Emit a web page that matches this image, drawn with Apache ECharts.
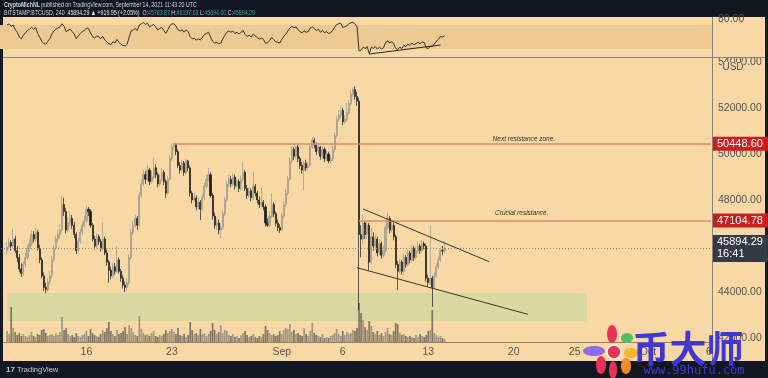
<!DOCTYPE html>
<html>
<head>
<meta charset="utf-8">
<title>BTCUSD 4h</title>
<script src="https://cdn.jsdelivr.net/npm/echarts@6/dist/echarts.min.js"></script>
<style>
  html, body { margin: 0; padding: 0; background: #131722; }
  #main { width: 768px; height: 378px; }
</style>
</head>
<body>
<div id="main"></div>
<script>
  // 4h slots counted from Aug 9 2021 00:00 UTC, first candle sits in slot 3
  const firstSlot = 3;
  const slotCount = 350;

  // [open, close, low, high]
  const candles = [
    [45800,45950,45650,46150],[45950,46150,45850,46350],[46150,46000,45800,46250],[46000,46300,45900,46750],
    [46300,45800,45700,46450],[45800,45500,45300,46000],[45500,45000,44850,45650],[45000,44800,44650,45250],
    [44800,45200,44700,45350],[45200,45500,45050,45700],[45500,45900,45400,46050],[45900,46100,45750,46300],
    [46100,46500,46000,46700],[46500,46300,46150,46650],[46300,46600,46200,46800],[46600,45900,45800,46700],
    [45900,45400,45250,46050],[45400,44700,44600,45500],[44700,44200,44050,44850],[44200,44100,43950,44400],
    [44100,44450,44000,44600],[44450,44700,44300,44900],[44700,45400,44600,45550],[45400,45900,45300,46050],
    [45900,46300,45800,46450],[46300,46500,46150,46700],[46500,46700,46350,46950],[46700,47800,46600,48200],
    [47800,47500,47300,48100],[47500,46700,46550,47650],[46700,47000,46600,47250],[47000,47200,46850,47500],
    [47200,46900,46750,47350],[46900,46500,46350,47050],[46500,45800,45650,46600],[45800,46200,45700,46350],
    [46200,46600,46100,46750],[46600,46900,46450,47050],[46900,47100,46800,47300],[47100,47600,47000,47750],
    [47600,47500,47300,47700],[47500,46900,46800,47600],[46900,46300,46200,47000],[46300,46000,45850,46450],
    [46000,46400,45900,46550],[46400,46200,46050,46500],[46200,45900,45750,46300],[45900,46300,45800,47040],
    [46300,45700,45600,46400],[45700,45300,45150,45850],[45300,44950,44400,45400],[44950,44700,44550,45100],
    [44700,45100,44600,45250],[45100,44900,44750,45250],[44900,45400,44800,46000],[45400,44900,44800,45500],
    [44900,44600,44450,45000],[44600,44300,44150,44750],[44300,44200,44000,44450],[44200,44400,44050,44600],
    [44400,45500,44300,45650],[45500,46600,45400,46750],[46600,46900,46450,47100],[46900,47200,46800,47350],
    [47200,46900,46700,47300],[46900,48200,46850,48350],[48200,48700,48100,48900],[48700,49100,48600,49300],
    [49100,48900,48700,49250],[48900,49300,48800,49500],[49300,48800,48650,49400],[48800,49000,48700,49250],
    [49000,49400,48900,49830],[49400,49100,48950,49550],[49100,48700,48550,49200],[48700,48900,48600,49100],
    [48900,49200,48800,49400],[49200,48800,48650,49300],[48800,48300,48090,48900],[48300,48900,48200,49050],
    [48900,49800,48850,49950],[49800,50300,49700,50450],[50300,50400,50150,50500],[50400,50100,49950,50450],
    [50100,49500,49400,50200],[49500,49300,49150,49650],[49300,49600,49200,49750],[49600,49200,49050,49700],
    [49200,49700,49100,49800],[49700,49400,49250,49750],[49400,48300,48150,49500],[48300,48000,47850,48400],
    [48000,48100,47900,48300],[48100,47700,47550,48200],[47700,47900,47600,48100],[47900,47600,47130,48000],
    [47600,48100,47500,48250],[48100,48600,48000,48750],[48600,48900,48500,49100],[48900,49100,48800,49400],
    [49100,48200,48100,49200],[48200,47300,47150,48300],[47300,46900,46750,47450],[46900,47000,46700,47200],
    [47000,46700,46500,47150],[46700,46800,46350,46950],[46800,47400,46700,47550],[47400,48000,47300,48150],
    [48000,48700,47900,48850],[48700,48900,48550,49100],[48900,48700,48550,49050],[48700,49000,48600,49150],
    [49000,48600,48450,49100],[48600,48800,48500,48950],[48800,48500,48350,48900],[48500,48900,48400,49050],
    [48900,49200,48800,49650],[49200,48500,48400,49300],[48500,48200,48050,48650],[48200,48400,48100,48550],
    [48400,48100,47950,48500],[48100,48600,48000,49200],[48600,48300,48150,48700],[48300,48000,47850,48400],
    [48000,47800,47650,48150],[47800,47900,47700,48550],[47900,47700,47550,48000],[47700,47000,46850,47800],
    [47000,46900,46830,47200],[46900,47300,46800,47500],[47300,47800,47200,48300],[47800,47400,47250,47900],
    [47400,47000,46850,47500],[47000,46800,46650,47150],[46800,46700,46570,46950],[46700,47300,46650,47450],
    [47300,47800,47200,47950],[47800,48300,47700,48450],[48300,48900,48200,49050],[48900,49700,48850,49850],
    [49700,50200,49600,50350],[50200,49900,49750,50300],[49900,50300,49800,50450],[50300,49800,49650,50400],
    [49800,49500,49350,49900],[49500,49300,49150,49650],[49300,49600,48430,49700],[49600,49400,49250,49750],
    [49400,49500,49300,49700],[49500,50300,49450,50450],[50300,50600,50200,50750],[50600,50400,50250,50700],
    [50400,50100,49950,50500],[50100,50300,50000,50450],[50300,49900,49750,50350],[49900,50200,49800,50350],
    [50200,49800,49650,50300],[49800,50000,49700,50150],[50000,49700,49600,50100],[49700,49800,49600,49950],
    [49800,50200,49700,50350],[50200,50800,50100,50950],[50800,51500,50700,51650],[51500,51700,51400,51900],
    [51700,51900,51550,52050],[51900,51400,51250,52000],[51400,51500,51300,51700],[51500,51800,51400,52220],
    [51800,52200,51700,52350],[52200,52600,52100,52750],[52600,52800,52450,52900],[52800,52500,52350,52950],
    [52500,52300,52100,52700],[52300,46500,43200,52450],[46500,46300,45500,46900],[46300,47000,46100,47350],
    [47000,46500,46300,47100],[46500,46900,46300,47100],[46900,45300,44950,47000],[45300,46400,45200,46800],
    [46400,46000,45800,46600],[46000,46300,45850,46500],[46300,45700,45550,46400],[45700,46100,45600,46300],
    [46100,45600,45450,46200],[45600,45800,45500,46000],[45800,46800,45700,46950],[46800,47200,46700,47430],
    [47200,46700,46550,47300],[46700,46900,46600,47100],[46900,46400,46250,47000],[46400,45200,45050,46500],
    [45200,44900,44090,45350],[44900,45300,44800,45450],[45300,44900,44750,45400],[44900,45500,44800,45650],
    [45500,45200,45050,45600],[45200,45700,45100,45850],[45700,45400,45250,45800],[45400,45900,45300,46050],
    [45900,45500,45350,46000],[45500,45800,45400,45950],[45800,46000,45700,46200],[46000,45800,45650,46100],
    [45800,46100,45700,46250],[46100,46000,45850,46200],[46000,44600,44450,46100],[44600,44400,44250,44750],
    [44400,44600,44300,46900],[44600,44200,43350,44700],[44200,44700,44100,44850],[44700,45100,44600,45250],
    [45100,45400,45000,45550],[45400,45800,45300,45950],[45800,45783.87,45600,46000],[45783.87,45894.29,45694,46197.68]
  ];

  const volumes = [
    1200,900,3600,1500,1100,800,1000,700,
    900,700,600,800,1100,700,600,900,800,1300,
    1400,1000,700,800,900,700,1000,800,1100,2600,
    1300,1500,900,700,800,600,1000,700,600,800,
    900,1200,700,1400,1000,800,700,600,900,1300,
    1100,1500,2100,1200,900,700,1300,900,1000,1200,
    1600,900,1800,1500,1100,800,700,2700,1400,1000,
    800,900,700,1000,1200,700,600,800,700,900,
    1300,1000,1200,1400,1100,900,1500,800,700,900,
    600,800,2100,1300,900,1000,800,1400,900,1000,
    700,900,1200,2000,1300,900,1100,1800,1000,1300,
    1200,800,700,900,600,700,500,800,1000,1200,
    800,600,700,900,600,500,700,600,900,1700,
    1300,1000,800,900,700,800,1200,900,1300,1500,
    1400,1900,1100,1300,900,1000,800,700,1500,900,
    700,1200,2000,1000,800,700,600,900,500,600,
    500,700,800,1000,1400,900,700,1200,800,1100,
    900,1000,1300,1200,1500,4000,3000,2300,1600,1300,
    2200,1700,1100,900,1200,800,1000,700,1100,1500,
    900,800,1200,2000,1900,1000,800,900,700,600,
    700,600,500,800,600,900,700,600,800,1200,
    1300,3300,1000,800,600,700,500,400
  ];

  const rsiValues = [
    70,72,68,70,62,58,50,47,
    53,57,61,63,66,63,66,56,50,43,
    39,38,43,47,55,60,63,65,67,72,
    68,59,61,63,59,55,47,52,56,59,
    61,65,64,57,51,48,52,50,47,51,
    45,42,39,37,42,40,46,41,38,36,
    35,38,50,60,62,64,61,70,72,74,
    71,73,67,69,71,67,62,64,66,61,
    56,62,69,72,72,68,62,60,62,58,
    62,59,50,47,48,45,47,45,50,54,
    56,58,50,43,40,41,39,40,47,53,
    58,60,58,60,56,58,55,58,61,54,
    51,53,50,55,52,49,47,48,46,40,
    40,44,49,46,42,41,40,46,51,55,
    60,65,68,65,67,62,59,57,60,58,
    59,65,67,64,61,63,58,61,57,59,
    56,57,61,66,71,72,73,66,67,69,
    72,74,75,71,68,27,28,33,31,34,
    22,33,31,34,30,33,30,32,40,44,
    40,42,39,31,29,33,31,36,34,38,
    36,40,37,39,41,39,42,41,32,31,
    34,35,38,43,46,51,50,52
  ];

  // date ticks: slot index -> label
  const tickLabels = {42: '16', 84: '23', 138: 'Sep', 168: '6', 210: '13', 252: '20', 282: '25', 318: 'Oct', 348: '6'};

  const nextResistance = 50448.60;
  const crucialResistance = 47104.78;
  const lastPrice = 45894.29;
  const supportZone = [42739, 43957];

  const slotStart = Date.UTC(2021, 7, 9);
  const categories = [];
  for (let i = 0; i < slotCount; i++) {
    categories.push(new Date(slotStart + i * 4 * 3600 * 1000).toISOString().slice(0, 13));
  }

  const candleData = categories.map(() => '-');
  const volumeData = categories.map(() => '-');
  const rsiData = categories.map(() => '-');
  candles.forEach((c, k) => {
    const i = firstSlot + k;
    candleData[i] = c;
    volumeData[i] = {
      value: volumes[k],
      itemStyle: {color: c[1] >= c[0] ? 'rgba(140,132,121,0.8)' : 'rgba(100,93,85,0.8)'}
    };
    rsiData[i] = rsiValues[k];
  });

  const peach = '#f8d8a5';
  const frame = '#8d8173';
  const labelFont = 'Liberation Sans';

  let chart = echarts.init(document.getElementById('main'));
  let option = {
    animation: false,
    backgroundColor: '#131722',
    textStyle: {fontFamily: labelFont},
    grid: [
      {left: -3, right: 56, top: 58, bottom: 35},
      {left: -3, right: 56, top: 18, height: 39},
      {left: -3, right: 56, top: 295, bottom: 35}
    ],
    xAxis: [
      {
        type: 'category', data: categories, gridIndex: 0, boundaryGap: true,
        axisLine: {show: false}, axisTick: {show: false}, splitLine: {show: false},
        axisLabel: {
          interval: (idx) => tickLabels[idx] !== undefined,
          formatter: (val, idx) => tickLabels[idx] || '',
          color: '#555', fontSize: 10.5, margin: 4
        }
      },
      {type: 'category', data: categories, gridIndex: 1, show: false},
      {type: 'category', data: categories, gridIndex: 2, show: false}
    ],
    yAxis: [
      {
        type: 'value', gridIndex: 0, position: 'right', min: 41783, max: 54174, scale: true,
        splitNumber: 6,
        axisLine: {show: false}, axisTick: {show: false}, splitLine: {show: false},
        axisLabel: {
          formatter: (v) => (v % 2000 === 0 ? v.toFixed(2) : ''),
          color: '#555', fontSize: 10.5, margin: 6
        }
      },
      {
        type: 'value', gridIndex: 1, position: 'right', min: 16.7, max: 81.7,
        axisLine: {show: false}, axisTick: {show: false}, splitLine: {show: false},
        axisLabel: {
          formatter: (v) => (v === 80 ? '80.00' : ''),
          color: '#555', fontSize: 10.5, margin: 6
        }
      },
      {type: 'value', gridIndex: 2, min: 0, max: 4800, show: false}
    ],
    series: [
      {
        name: 'BTCUSD',
        type: 'candlestick',
        xAxisIndex: 0, yAxisIndex: 0,
        data: candleData,
        barWidth: 1.6,
        itemStyle: {
          color: '#b3ada3', color0: '#1c1c1c',
          borderColor: '#9d978d', borderColor0: '#1c1c1c', borderWidth: 0.7
        },
        markArea: {
          silent: true,
          itemStyle: {color: '#d9d8a1'},
          data: [[{coord: [3, supportZone[1]]}, {coord: [288, supportZone[0]]}]]
        },
        markLine: {
          silent: true,
          symbol: ['none', 'none'],
          precision: 2,
          data: [
            [
              {coord: [85, nextResistance], lineStyle: {color: '#e2896a', width: 1.6, type: 'solid'},
                label: {show: true, position: 'end', distance: 2, formatter: nextResistance.toFixed(2),
                  backgroundColor: '#c9201f', color: '#fff', fontSize: 11, padding: [2, 5, 1, 4], fontFamily: labelFont}},
              {coord: [349, nextResistance]}
            ],
            [
              {coord: [176, crucialResistance], lineStyle: {color: '#e2896a', width: 1.6, type: 'solid'},
                label: {show: true, position: 'end', distance: 2, formatter: crucialResistance.toFixed(2),
                  backgroundColor: '#c9201f', color: '#fff', fontSize: 11, padding: [2, 5, 1, 4], fontFamily: labelFont}},
              {coord: [349, crucialResistance]}
            ],
            [
              {coord: [0, lastPrice], lineStyle: {color: '#9a8c78', width: 1, type: [1, 2]},
                label: {show: true, position: 'end', distance: 2, formatter: lastPrice.toFixed(2) + '\n16:41',
                  backgroundColor: '#363a45', color: '#fff', fontSize: 11, lineHeight: 12, padding: [2, 5, 1, 4], fontFamily: labelFont}},
              {coord: [349, lastPrice]}
            ],
            [
              {coord: [178, 47609], lineStyle: {color: '#3a3630', width: 1, type: 'solid'}, label: {show: false}},
              {coord: [240, 45317]}
            ],
            [
              {coord: [175, 45057], lineStyle: {color: '#3a3630', width: 1, type: 'solid'}, label: {show: false}},
              {coord: [259, 43030]}
            ]
          ]
        },
        markPoint: {
          silent: true,
          symbol: 'circle', symbolSize: 0,
          label: {show: true, formatter: '{b}', fontStyle: 'italic', fontSize: 6.5, color: '#333', fontFamily: labelFont},
          data: [
            {name: 'Next resistance zone.', coord: [257, 50650]},
            {name: 'Crucial resistance.', coord: [256, 47435]}
          ]
        }
      },
      {
        name: 'RSI',
        type: 'line',
        xAxisIndex: 1, yAxisIndex: 1,
        data: rsiData,
        showSymbol: false,
        lineStyle: {color: '#3a3228', width: 1},
        markArea: {
          silent: true,
          itemStyle: {color: '#edc994'},
          data: [[{yAxis: 30}, {yAxis: 70}]]
        },
        markLine: {
          silent: true,
          symbol: ['none', 'none'],
          label: {show: false},
          lineStyle: {color: '#2a2620', width: 1, type: 'solid'},
          data: [[{coord: [181, 21.7]}, {coord: [216, 36.7]}]]
        }
      },
      {
        name: 'Volume',
        type: 'bar',
        xAxisIndex: 2, yAxisIndex: 2,
        data: volumeData,
        barWidth: 1.7
      }
    ],
    graphic: [
      {type: 'rect', z: -10, shape: {x: 3, y: 17, width: 762, height: 344}, style: {fill: peach}},
      {type: 'line', z: 50, shape: {x1: 3, y1: 57.5, x2: 765, y2: 57.5}, style: {stroke: frame, lineWidth: 1}},
      {type: 'line', z: 50, shape: {x1: 3, y1: 342.5, x2: 712, y2: 342.5}, style: {stroke: frame, lineWidth: 1}},
      {type: 'line', z: 50, shape: {x1: 712.5, y1: 17, x2: 712.5, y2: 361}, style: {stroke: frame, lineWidth: 1}},
      {
        type: 'text', z: 60, x: 733, y: 67,
        style: {text: 'USD', fill: '#555', fontSize: 10, fontFamily: labelFont, backgroundColor: peach,
          align: 'center', verticalAlign: 'middle'}
      },
      {
        type: 'text', z: 60, x: 4, y: 5, scaleX: 0.7,
        style: {
          text: '{b|CryptoMichNL} published on TradingView.com, September 14, 2021 11:43:20 UTC',
          fill: '#d1d4dc', fontSize: 7.5, fontFamily: labelFont, verticalAlign: 'middle',
          rich: {b: {fontWeight: 'bold', fill: '#d1d4dc', fontSize: 7.5}}
        }
      },
      {
        type: 'text', z: 60, x: 4, y: 12.5, scaleX: 0.7,
        style: {
          text: 'BITSTAMP:BTCUSD, 240  {w|45894.29 ▲ +919.95 (+2.05%)}  O:{g|45783.87} H:{g|46197.68} L:{g|45694.00} C:{g|45894.29}',
          fill: '#d1d4dc', fontSize: 7.5, fontFamily: labelFont, verticalAlign: 'middle',
          rich: {w: {fill: '#e8e8e8', fontSize: 7.5}, g: {fill: '#26a69a', fontSize: 7.5}}
        }
      },
      {
        type: 'text', z: 60, x: 6, y: 370,
        style: {text: '{b|17} TradingView', fill: '#c8cbd3', fontSize: 7.5, fontFamily: labelFont, verticalAlign: 'middle',
          rich: {b: {fontWeight: 'bold', fill: '#c8cbd3', fontSize: 8}}}
      },
      // watermark
      {type: 'ellipse', z: 70, shape: {cx: 594, cy: 351, rx: 11, ry: 5}, style: {fill: '#8a6cf0'}},
      {type: 'ellipse', z: 70, shape: {cx: 612, cy: 334, rx: 5, ry: 9}, style: {fill: '#e8325a'}},
      {type: 'ellipse', z: 70, shape: {cx: 627, cy: 338, rx: 6, ry: 5}, style: {fill: '#4fbf6a'}},
      {type: 'ellipse', z: 70, shape: {cx: 631, cy: 353, rx: 7, ry: 5}, style: {fill: '#f5b82a'}},
      {type: 'ellipse', z: 70, shape: {cx: 626, cy: 366, rx: 5, ry: 8}, style: {fill: '#f08a2a'}},
      {type: 'ellipse', z: 70, shape: {cx: 613, cy: 370, rx: 4, ry: 9}, style: {fill: '#e8325a'}},
      {type: 'ellipse', z: 70, shape: {cx: 601, cy: 365, rx: 5, ry: 9}, style: {fill: '#e8325a'}},
      {type: 'circle', z: 71, shape: {cx: 614, cy: 352, r: 7}, style: {fill: '#e8325a', stroke: '#fff', lineWidth: 1.5}},
      {
        type: 'text', z: 70, x: 688, y: 349,
        style: {text: '币大师', fill: '#4038d6', fontSize: 37, fontWeight: 'bold', fontFamily: 'Noto Sans CJK SC',
          align: 'center', verticalAlign: 'middle'}
      },
      {
        type: 'text', z: 70, x: 694, y: 371,
        style: {text: 'www.99hufu.com', fill: '#4038d6', fontSize: 12, fontFamily: 'DejaVu Sans Mono',
          align: 'center', verticalAlign: 'middle'}
      }
    ]
  };
  chart.setOption(option);
</script>
</body>
</html>
